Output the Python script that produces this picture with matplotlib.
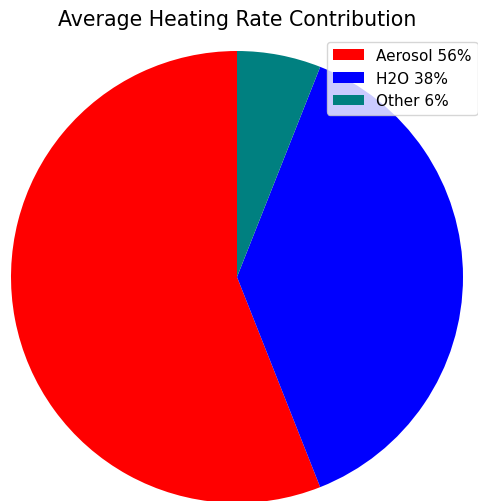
import matplotlib
matplotlib.use('Agg')
import matplotlib.pyplot as plt

labels = ['Aerosol', 'H2O', 'Other']
shares = [56, 38, 6]
colors = ['red', 'blue', 'teal']

fig = plt.figure(figsize=(4.78, 5.02), dpi=100)
ax = fig.add_axes([11/478, -2/502, 452/478, 452/502])

wedges, _ = ax.pie(shares, colors=colors, startangle=90, counterclock=True)
ax.set_xlim(-1, 1)
ax.set_ylim(-1, 1)
ax.set_aspect('equal')

fig.text(237/478, 1 - 20/502, 'Average Heating Rate Contribution',
         ha='center', va='center', fontsize=14.8)

leg_labels = [f'{l} {s}%' for l, s in zip(labels, shares)]
fig.legend(wedges, leg_labels, loc='upper left',
           bbox_to_anchor=(327/478, 1 - 43/502), fontsize=11,
           borderaxespad=0, handlelength=2.0)

fig.savefig('out.png', dpi=100)
